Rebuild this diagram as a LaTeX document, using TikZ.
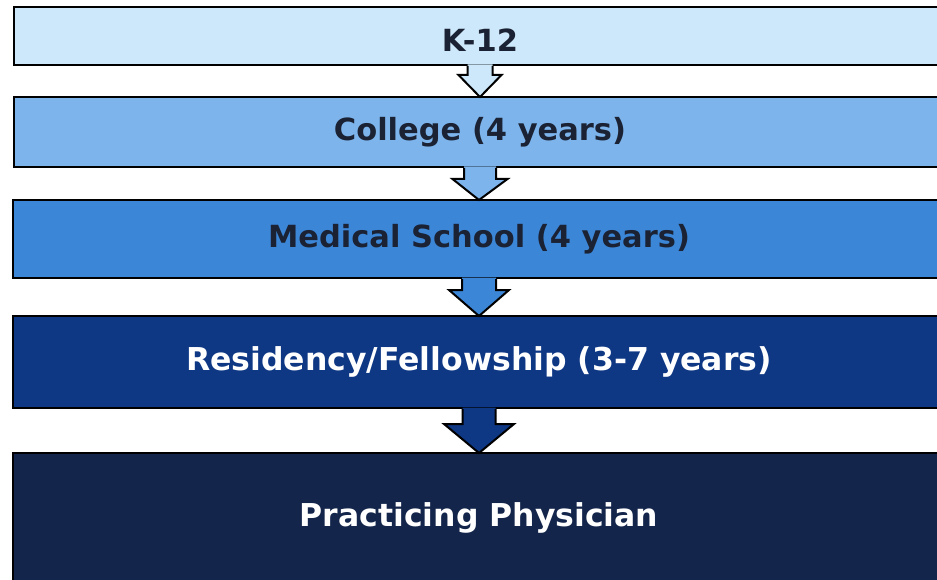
\documentclass[tikz,border=0pt]{standalone}
\usepackage{fontspec}
\setmainfont{DejaVu Sans}
\usetikzlibrary{calc}

\definecolor{kfill}{HTML}{CDE8FA}
\definecolor{collfill}{HTML}{7DB4EC}
\definecolor{medfill}{HTML}{3C86D8}
\definecolor{resfill}{HTML}{0E3784}
\definecolor{physfill}{HTML}{13254A}
\definecolor{darktext}{HTML}{1A2233}

\tikzset{
  stage/.style={draw=black, line width=2pt, anchor=north west, inner sep=0pt,
    minimum width=932pt, text=darktext, font=\bfseries\fontsize{30.5}{34}\selectfont},
  lightstage/.style={stage, text=white, font=\bfseries\fontsize{31.5}{36}\selectfont}
}

\newcommand{\stagearrow}[6]{%
  \fill[#6] ($(#1.south)+(-#3,-1.5)$) -- ($(#1.south)+(-#3,#5)$) -- ($(#1.south)+(-#4,#5)$)
    -- ($(#2.north)+(0,1)$) -- ($(#1.south)+(#4,#5)$) -- ($(#1.south)+(#3,#5)$) -- ($(#1.south)+(#3,-1.5)$) -- cycle;
  \draw[line width=2pt, line join=miter] ($(#1.south)+(-#3,0)$) -- ($(#1.south)+(-#3,#5)$) -- ($(#1.south)+(-#4,#5)$)
    -- ($(#2.north)+(0,1)$) -- ($(#1.south)+(#4,#5)$) -- ($(#1.south)+(#3,#5)$) -- ($(#1.south)+(#3,0)$);
}

\begin{document}
\begin{tikzpicture}[x=1pt, y=-1pt]
  \useasboundingbox (0,0) rectangle (937,580);
  \clip (0,0) rectangle (937,580);
  \fill[white] (0,0) rectangle (937,580);

  \node[stage, fill=kfill, minimum height=58pt] (k12) at (13,6) {\raisebox{-5pt}[22pt][0pt]{K-12}};
  \node[stage, fill=collfill, minimum height=70pt] (college) at (13,96) {College (4 years)};
  \node[stage, fill=medfill, minimum height=78pt] (medschool) at (12,199) {Medical School (4 years)};
  \node[lightstage, fill=resfill, minimum height=92pt] (residency) at (12,315) {Residency/Fellowship (3-7 years)};
  \node[lightstage, fill=physfill, minimum height=140pt] (physician) at (12,452) {\raisebox{16pt}{Practicing Physician}};

  \stagearrow{k12}{college}{12.5}{21.5}{9}{kfill}
  \stagearrow{college}{medschool}{16}{27.5}{11}{collfill}
  \stagearrow{medschool}{residency}{17}{30}{11}{medfill}
  \stagearrow{residency}{physician}{16.5}{35}{15}{resfill}
\end{tikzpicture}
\end{document}
